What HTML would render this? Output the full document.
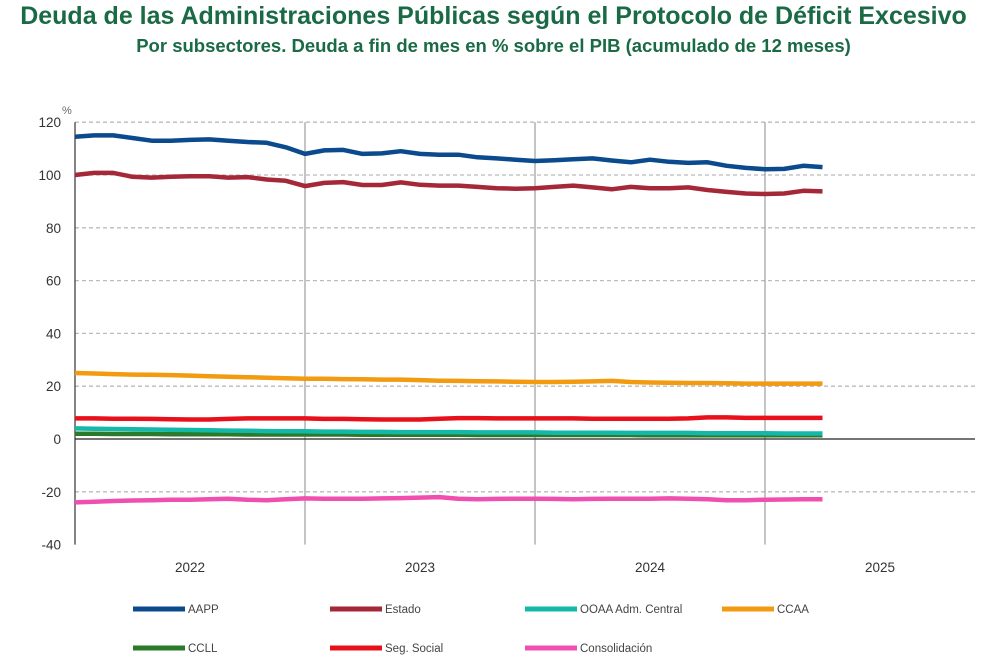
<!DOCTYPE html>
<html><head><meta charset="utf-8"><style>
body{margin:0;background:#fff;width:987px;height:665px;overflow:hidden;font-family:"Liberation Sans",sans-serif}
#t{position:absolute;left:0;width:987px;top:2px;text-align:center;font-weight:bold;font-size:25px;color:#1a6a45;white-space:nowrap}
#s{position:absolute;left:0;width:987px;top:35px;text-align:center;font-weight:bold;font-size:18.5px;color:#1a6a45;white-space:nowrap}
</style></head><body>
<div id="t">Deuda de las Administraciones Públicas según el Protocolo de Déficit Excesivo</div>
<div id="s">Por subsectores. Deuda a fin de mes en % sobre el PIB (acumulado de 12 meses)</div>
<svg id="c" width="987" height="665" style="position:absolute;left:0;top:0"></svg>
<script>
const years=["2022","2023","2024","2025"];
const yTicks=[120,100,80,60,40,20,0,-20,-40];
const aapp=[114.5,115,115,114,113,113,113.3,113.5,113,112.5,112.2,110.5, 108,109.3,109.5,108,108.2,109,108,107.7,107.7,106.7,106.3,105.8, 105.3,105.6,106,106.3,105.5,104.8,105.8,105,104.6,104.8,103.5,102.7, 102.2,102.3,103.5,103];
const estado=[100,100.8,100.8,99.3,99,99.3,99.5,99.5,99,99.2,98.3,97.8, 95.8,97,97.3,96.2,96.2,97.2,96.3,96,96,95.5,95,94.8, 95,95.5,96,95.3,94.6,95.5,95,95,95.3,94.3,93.6,93, 92.8,93,94,93.8];
const ccaa=[25,24.8,24.6,24.4,24.3,24.2,24,23.8,23.6,23.4,23.2,23, 22.8,22.8,22.7,22.6,22.5,22.5,22.3,22.1,22,21.9,21.8,21.7, 21.6,21.6,21.7,21.8,22,21.6,21.4,21.3,21.2,21.2,21.1,21, 21,21,21,21];
const segsoc=[7.8,7.8,7.7,7.7,7.6,7.5,7.4,7.4,7.6,7.8,7.8,7.8, 7.8,7.6,7.6,7.5,7.4,7.4,7.4,7.7,7.9,7.9,7.8,7.8, 7.8,7.8,7.8,7.7,7.7,7.7,7.7,7.7,7.8,8.2,8.2,8, 8,8,8,8];
const ooaa=[4,3.9,3.8,3.7,3.6,3.5,3.4,3.3,3.2,3.1,3,2.9, 2.9,2.8,2.8,2.7,2.7,2.6,2.6,2.6,2.6,2.5,2.5,2.5, 2.5,2.4,2.4,2.4,2.4,2.3,2.3,2.3,2.3,2.2,2.2,2.2, 2.2,2.1,2.1,2.1];
const ccll=[2,2,1.9,1.9,1.9,1.8,1.8,1.8,1.8,1.7,1.7,1.7, 1.7,1.7,1.7,1.6,1.6,1.6,1.6,1.6,1.6,1.5,1.5,1.5, 1.5,1.5,1.5,1.5,1.5,1.5,1.4,1.4,1.4,1.4,1.4,1.4, 1.4,1.4,1.4,1.4];
const consol=[-24,-23.8,-23.5,-23.3,-23.2,-23,-23,-22.8,-22.6,-23,-23.2,-22.8, -22.5,-22.6,-22.6,-22.6,-22.5,-22.4,-22.2,-22,-22.6,-22.8,-22.7,-22.6, -22.6,-22.7,-22.8,-22.7,-22.6,-22.6,-22.6,-22.5,-22.6,-22.8,-23.2,-23.2, -23,-22.9,-22.8,-22.8];
const series=[["ccll",ccll,"#2a7a2a","CCLL"],["ooaa",ooaa,"#14b8a8","OOAA Adm. Central"],["seg-social",segsoc,"#e8101a","Seg. Social"],["ccaa",ccaa,"#f29a10","CCAA"],["consolidacion",consol,"#f04fb0","Consolidación"],["estado",estado,"#a52838","Estado"],["aapp",aapp,"#0b4a8c","AAPP"]];
const X0=75,X1=975,YW=230,Y0=439,K=2.64;
const x=i=>X0+i*YW/12, y=v=>Y0-v*K;
const svg=document.getElementById('c');const NS='http://www.w3.org/2000/svg';
function mk(t,a,p){const e=document.createElementNS(NS,t);for(const k in a)e.setAttribute(k,a[k]);(p||svg).appendChild(e);return e;}
yTicks.forEach(v=>{
 if(v!==0&&v!==-40){const l=mk('line',{x1:X0,x2:X1,y1:y(v),y2:y(v),stroke:'#bbb','stroke-width':1.3,'stroke-dasharray':'4,3'});
 
 }
 const t=mk('text',{x:X0-14,y:y(v)+5,'text-anchor':'end','font-size':13.5,fill:'#333'});t.textContent=v;
 
 
});
const pu=mk('text',{x:62,y:114,'font-size':11,fill:'#666'});pu.textContent='%';


years.forEach((yr,i)=>{
 if(i>0){const l=mk('line',{x1:X0+i*YW,x2:X0+i*YW,y1:y(120),y2:y(-40),stroke:'#888','stroke-width':1});
 
 }
 const t=mk('text',{x:X0+i*YW+YW/2,y:572,'text-anchor':'middle','font-size':13.5,fill:'#333'});t.textContent=yr;
 
 
});
const ax=mk('line',{x1:X0,x2:X0,y1:y(120),y2:y(-40),stroke:'#333','stroke-width':1.2});


const zx=mk('line',{x1:X0,x2:X1,y1:y(0),y2:y(0),stroke:'#222','stroke-width':1.3});


series.forEach(s=>{
 const p=mk('polyline',{points:s[1].map((v,i)=>x(i).toFixed(1)+','+y(v).toFixed(1)).join(' '),fill:'none',stroke:s[2],'stroke-width':4.5,'stroke-linejoin':'round'});
 
 
});
const leg=[["aapp",133,609],["estado",330,609],["ooaa",525,609],["ccaa",722,609],["ccll",133,648],["seg-social",330,648],["consolidacion",525,648]];
leg.forEach(l=>{const s=series.find(q=>q[0]===l[0]);
 const g=mk('g',{});
 
 
 mk('line',{x1:l[1],x2:l[1]+52,y1:l[2],y2:l[2],stroke:s[2],'stroke-width':5},g);
 const t=mk('text',{x:l[1]+55,y:l[2]+4,'font-size':11.5,fill:'#444'},g);t.textContent=s[3];
});
</script>
</body></html>
